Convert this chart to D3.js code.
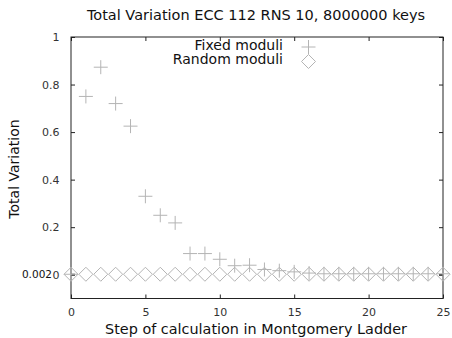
<!DOCTYPE html>
<html>
<head>
<meta charset="utf-8">
<script src="https://cdn.jsdelivr.net/npm/d3@7"></script>
<style>
  html, body { margin: 0; padding: 0; background: #fff; }
  svg { display: block; font-family: "DejaVu Sans", sans-serif; }
</style>
</head>
<body>
<svg id="chart" width="452" height="338"></svg>
<script>
// Step index in the Montgomery ladder
const steps = d3.range(0, 26);
// Total variation, fixed moduli
const fixedModuli = [0.002, 0.75, 0.873, 0.72, 0.625, 0.33, 0.25, 0.218, 0.089, 0.089,
  0.065, 0.038, 0.04, 0.022, 0.017, 0.012, 0.007, 0.004, 0.004, 0.004,
  0.004, 0.004, 0.004, 0.004, 0.004, 0.004];
// Total variation, random moduli
const randomModuli = steps.map(() => 0.002);
const xTicks = [0, 5, 10, 15, 20, 25];
const yTicks = [0, 0.2, 0.4, 0.6, 0.8, 1];
const extraYTick = 0.002;
const seriesNames = ["Fixed moduli", "Random moduli"];

const svg = d3.select("#chart");
const plotLeft = 71, plotRight = 443, plotTop = 37, plotBottom = 298.5;

const x = d3.scaleLinear().domain([0, 25]).range([plotLeft, plotRight]);
const y = d3.scaleLinear().domain([-0.1, 1]).range([plotBottom, plotTop]);

const markColor = "#b4b4b4";
const axisColor = "#222";

// Title and axis labels
svg.append("text").attr("x", 256).attr("y", 20).attr("text-anchor", "middle")
  .attr("font-size", 14.5).attr("fill", "#111")
  .text("Total Variation ECC 112 RNS 10, 8000000 keys");
svg.append("text").attr("x", 256).attr("y", 334).attr("text-anchor", "middle")
  .attr("font-size", 14.4).attr("fill", "#111")
  .text("Step of calculation in Montgomery Ladder");
svg.append("text").attr("transform", "translate(19,169) rotate(-90)")
  .attr("text-anchor", "middle").attr("font-size", 14).attr("fill", "#111")
  .text("Total Variation");

// Axes: bottom/left with labels, top/right mirrored ticks
const g = svg.append("g");
const tickLen = 4;
g.append("g").attr("transform", `translate(0,${plotBottom})`)
  .call(d3.axisBottom(x).tickValues(xTicks).tickSize(-tickLen).tickPadding(10).tickFormat(d3.format("d")));
g.append("g").attr("transform", `translate(0,${plotTop})`)
  .call(d3.axisTop(x).tickValues(xTicks).tickSize(-tickLen).tickFormat(""));
g.append("g").attr("transform", `translate(${plotLeft},0)`)
  .call(d3.axisLeft(y).tickValues(yTicks).tickSize(-tickLen).tickPadding(11.5).tickFormat(d3.format("~g")));
g.append("g").attr("transform", `translate(${plotRight},0)`)
  .call(d3.axisRight(y).tickValues(yTicks.concat([extraYTick])).tickSize(-tickLen).tickFormat(""));
g.selectAll(".domain").remove();
g.selectAll(".tick line").attr("stroke", axisColor);
g.selectAll(".tick text").attr("font-size", 11).attr("fill", "#333")
  .attr("font-family", "DejaVu Sans, sans-serif");

// Extra tick for the random-moduli level
svg.append("line").attr("x1", plotLeft).attr("x2", plotLeft + tickLen)
  .attr("y1", y(extraYTick)).attr("y2", y(extraYTick)).attr("stroke", axisColor);
svg.append("text").attr("x", 52).attr("y", y(extraYTick)).attr("dy", "0.35em")
  .attr("text-anchor", "end").attr("font-size", 10.5).attr("fill", "#111")
  .text(d3.format(".3f")(extraYTick));

// Frame
svg.append("rect").attr("x", plotLeft).attr("y", plotTop)
  .attr("width", plotRight - plotLeft).attr("height", plotBottom - plotTop)
  .attr("fill", "none").attr("stroke", axisColor).attr("stroke-width", 1);

const plusPath = s => `M${-s},0H${s}M0,${-s}V${s}`;
const diamondPath = s => `M0,${-s}L${s},0L0,${s}L${-s},0Z`;

// Random moduli: diamonds
svg.append("g").selectAll("path").data(steps).join("path")
  .attr("transform", d => `translate(${x(d)},${y(randomModuli[d])})`)
  .attr("d", diamondPath(7)).attr("fill", "none")
  .attr("stroke", markColor).attr("stroke-width", 1);

// Fixed moduli: plus marks
svg.append("g").selectAll("path").data(steps).join("path")
  .attr("transform", d => `translate(${x(d)},${y(fixedModuli[d])})`)
  .attr("d", plusPath(7)).attr("fill", "none")
  .attr("stroke", markColor).attr("stroke-width", 1);

// Legend
const legend = svg.append("g");
seriesNames.forEach((name, i) => {
  const ly = 47 + i * 14.5;
  legend.append("text").attr("x", 283).attr("y", ly).attr("dy", "0.2em")
    .attr("text-anchor", "end").attr("font-size", 14).attr("fill", "#111").text(name);
  legend.append("path").attr("transform", `translate(308.5,${ly})`)
    .attr("d", i === 0 ? plusPath(7) : diamondPath(7))
    .attr("fill", "none").attr("stroke", markColor);
});
</script>
</body>
</html>
